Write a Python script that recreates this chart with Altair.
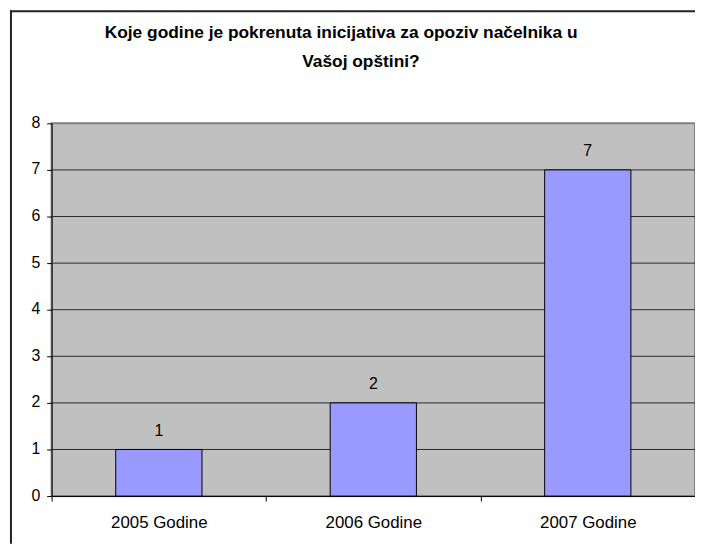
import altair as alt
import pandas as pd

categories = ["2005 Godine", "2006 Godine", "2007 Godine"]
values = [1, 2, 7]
y_ticks = [0, 1, 2, 3, 4, 5, 6, 7, 8]
grid_values = [1, 2, 3, 4, 5, 6, 7]
title_line1 = ["Koje godine je pokrenuta inicijativa za opoziv načelnika u"]
title_line2 = ["Vašoj opštini?"]

FONT = "Liberation Sans"

df = pd.DataFrame({"cat": categories, "val": values})
grid_df = pd.DataFrame({"g": grid_values})

y_scale = alt.Scale(domain=[0, 8], nice=False, zero=True)
y_axis = alt.Axis(
    title=None, values=y_ticks, grid=False, tickSize=5,
    labelFontSize=16, labelPadding=7, labelFont=FONT, labelOffset=-1,
    labelColor="black", domainColor="black", tickColor="black",
    domainWidth=1, tickWidth=1,
)

x_enc = alt.X(
    "cat:N",
    sort=categories,
    scale=alt.Scale(paddingInner=0, paddingOuter=0),
    axis=alt.Axis(
        title=None, labelAngle=0, tickBand="extent", tickSize=5,
        labelFontSize=17, labelPadding=14, labelFont=FONT,
        labelColor="black", domainColor="black", tickColor="black",
        domainWidth=1, tickWidth=1,
    ),
)

grid = alt.Chart(grid_df).mark_rule(color="#2a2a2a", strokeWidth=1).encode(
    y=alt.Y("g:Q", scale=y_scale, axis=y_axis)
)

bars = alt.Chart(df).mark_bar(
    size=87, color="#9999FF", stroke="black", strokeWidth=1
).encode(x=x_enc, y=alt.Y("val:Q", scale=y_scale, axis=y_axis))

labels = alt.Chart(df).mark_text(
    dy=-14, baseline="alphabetic", fontSize=16, font=FONT, color="black"
).encode(x=alt.X("cat:N", sort=categories), y="val:Q", text="val:Q")

t1 = alt.Chart(pd.DataFrame({"t": title_line1})).mark_text(
    fontSize=17.5, fontWeight="bold", font=FONT, color="black",
    align="center", baseline="alphabetic"
).encode(text="t:N", x=alt.value(292), y=alt.value(-86))

t2 = alt.Chart(pd.DataFrame({"t": title_line2})).mark_text(
    fontSize=17.5, fontWeight="bold", font=FONT, color="black",
    align="center", baseline="alphabetic"
).encode(text="t:N", x=alt.value(312), y=alt.value(-57))

one = pd.DataFrame({"a": [0]})
border_left = alt.Chart(one).mark_rule(color="#222222", strokeWidth=2).encode(
    x=alt.value(-41), y=alt.value(-114), y2=alt.value(424)
)
border_top = alt.Chart(one).mark_rule(color="#222222", strokeWidth=2).encode(
    x=alt.value(-42), x2=alt.value(649), y=alt.value(-113)
)

chart = alt.layer(grid, bars, labels, t1, t2, border_left, border_top).properties(
    width=649, height=376,
    autosize=alt.AutoSizeParams(type="none"),
    padding={"left": 44, "top": 114, "right": 0, "bottom": 46},
).configure(
    background="white",
    view=alt.ViewConfig(fill="#C0C0C0", stroke="#808080", strokeWidth=2),
)

chart.save("out.html", embed_options={"renderer": "svg", "actions": False})
